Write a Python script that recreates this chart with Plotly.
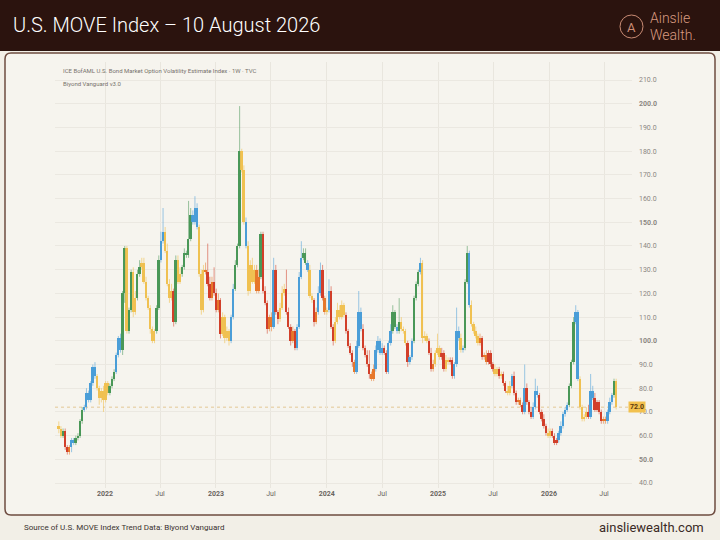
import numpy as np
import pandas as pd
import plotly.graph_objects as go

# weekly candles of the MOVE index, first week 2021-08-02, last week 2026-08-10
first_open = 64.0
closes = [
    63, 60, 62, 55, 53, 55, 58, 57, 59, 60,
    66, 71, 72, 78, 75, 82, 89, 85, 80, 76,
    79, 75, 82, 78, 81, 84, 87, 94, 101, 96,
    120, 139, 104, 113, 129, 112, 118, 128, 131, 133,
    125, 118, 114, 105, 100, 104, 114, 134, 142, 146,
    138, 124, 118, 121, 108, 134, 125, 128, 131, 137,
    136, 143, 153, 150, 156, 148, 128, 113, 130, 129,
    124, 118, 125, 120, 113, 117, 103, 110, 101, 104,
    100, 110, 122, 132, 140, 180, 172, 150, 140, 121,
    132, 125, 130, 121, 127, 145, 121, 116, 105, 110,
    106, 130, 112, 109, 114, 120, 122, 112, 106, 100,
    104, 97, 106, 127, 135, 137, 133, 130, 119, 117,
    108, 112, 120, 130, 118, 112, 113, 121, 106, 100,
    108, 113, 110, 115, 111, 104, 98, 95, 91, 87,
    98, 112, 105, 97, 94, 90, 86, 84, 88, 96,
    100, 95, 97, 95, 87, 99, 104, 112, 106, 104,
    108, 105, 104, 99, 91, 93, 100, 118, 124, 129,
    133, 101, 102, 100, 95, 88, 90, 95, 97, 93,
    95, 88, 92, 91, 92, 85, 90, 104, 101, 96,
    97, 125, 137, 115, 107, 104, 102, 99, 101, 93,
    94, 91, 95, 90, 88, 86, 88, 85, 86, 82,
    79, 78, 81, 85, 78, 74, 75, 73, 70, 80,
    74, 70, 68, 72, 79, 77, 70, 67, 64, 61,
    60, 62, 60, 57, 58, 61, 64, 69, 71, 73,
    81, 91, 108, 112, 84, 72, 67, 68, 70, 68,
    79, 76, 71, 74, 70, 66, 67, 66, 70, 74,
    77, 83, 72,
]
upper_wick = [
    2, 1, 1, 1, 1, 1, 1, 1, 1, 1,
    1, 1, 1, 2, 1, 1, 1, 2, 1, 1,
    1, 2, 1, 1, 1, 1, 1, 1, 1, 2,
    1, 1, 1, 1, 1, 2, 3, 2, 3, 2,
    2, 2, 1, 1, 1, 1, 1, 2, 4, 10,
    2, 3, 2, 3, 1, 2, 2, 3, 1, 2,
    1, 16, 3, 2, 5, 2, 1, 2, 2, 3,
    12, 3, 2, 6, 2, 3, 1, 2, 1, 2,
    1, 1, 2, 2, 1, 19, 1, 2, 2, 2,
    2, 3, 2, 2, 3, 1, 1, 2, 1, 1,
    2, 5, 2, 1, 2, 3, 2, 8, 2, 1,
    2, 1, 1, 2, 7, 2, 2, 1, 2, 1,
    1, 2, 3, 3, 2, 1, 1, 5, 2, 1,
    2, 3, 2, 2, 1, 1, 1, 1, 1, 1,
    2, 9, 2, 2, 1, 2, 6, 1, 2, 2,
    2, 1, 2, 1, 1, 1, 3, 3, 1, 1,
    10, 2, 1, 1, 1, 1, 1, 1, 1, 1,
    2, 1, 2, 1, 1, 2, 2, 1, 6, 1,
    2, 1, 2, 1, 1, 1, 1, 10, 2, 2,
    1, 1, 3, 1, 2, 1, 2, 1, 2, 1,
    1, 2, 1, 1, 1, 2, 1, 1, 1, 1,
    1, 2, 2, 1, 2, 1, 1, 1, 1, 10,
    2, 1, 2, 2, 5, 2, 1, 1, 2, 1,
    2, 1, 1, 1, 1, 1, 2, 1, 1, 1,
    1, 1, 2, 3, 1, 1, 1, 1, 2, 3,
    7, 2, 2, 1, 1, 1, 1, 1, 1, 2,
    1, 1, 1,
]
lower_wick = [
    2, 1, 1, 1, 1, 1, 2, 1, 1, 1,
    1, 1, 1, 1, 1, 1, 1, 1, 1, 3,
    2, 5, 1, 1, 1, 1, 1, 1, 1, 1,
    2, 4, 1, 1, 1, 2, 1, 1, 1, 1,
    1, 1, 1, 2, 1, 1, 1, 1, 1, 1,
    1, 1, 2, 1, 2, 1, 1, 1, 1, 1,
    1, 1, 1, 1, 1, 1, 1, 2, 1, 1,
    1, 1, 1, 1, 1, 1, 2, 1, 2, 1,
    2, 1, 1, 1, 1, 1, 1, 1, 1, 2,
    1, 1, 1, 1, 1, 1, 1, 1, 2, 1,
    2, 1, 1, 2, 1, 1, 1, 1, 1, 2,
    1, 1, 1, 1, 1, 1, 1, 1, 1, 1,
    2, 1, 1, 1, 1, 1, 1, 1, 1, 2,
    1, 1, 1, 1, 1, 1, 1, 1, 2, 1,
    1, 1, 1, 1, 1, 1, 2, 1, 1, 1,
    1, 1, 1, 1, 1, 1, 1, 1, 1, 1,
    1, 1, 1, 1, 2, 1, 1, 1, 1, 1,
    1, 2, 1, 1, 1, 1, 1, 1, 1, 1,
    1, 1, 1, 1, 1, 1, 1, 1, 1, 1,
    1, 1, 1, 1, 1, 1, 1, 1, 1, 1,
    1, 1, 1, 1, 1, 1, 1, 1, 1, 1,
    1, 1, 1, 1, 1, 1, 1, 1, 1, 1,
    1, 1, 1, 1, 1, 1, 1, 1, 1, 1,
    1, 1, 1, 1, 1, 1, 1, 1, 1, 1,
    1, 1, 1, 1, 1, 1, 1, 1, 1, 1,
    1, 1, 1, 1, 1, 1, 1, 1, 1, 1,
    1, 1, 1,
]
# Biyond Vanguard state per week: G green, B blue, Y yellow, O orange, R red
states = (
    "YYGRROBBGG" "GGBBBBBBYY" "YYYYGGGBBB" "GGYGGYYGGY" "YYYYYYGGBB"
    "YYYYRGYYGG" "GGGBBBYYYO" "RRORRORYYY" "YBBGGGYYBY" "YYYOOGRRRO"
    "OBRRYYYRRR" "ORBBBGGBYY" "ROBBROYBRR" "YYYYYRRRRO" "BBBRRRROOB"
    "BBBRRBBGGB" "GYYYRBBGGG" "BYYYRROYYY" "RRYYRRBBBY" "BGGBYYYYOR"
    "OORRRYYRYR" "RYYBRROORB" "RRRBBBRRRR" "YYRRRBBBBB" "GGGBBYYYYR"
    "BBRRRROOBB" "BGY"
)
last_price = 72.0

state_colors = {
    "G": "#4a9858",
    "B": "#4b9ed8",
    "Y": "#f0c152",
    "O": "#e6782c",
    "R": "#d23f2a",
}
wick_colors = {
    "G": "rgba(74,152,88,0.55)",
    "B": "rgba(75,158,216,0.55)",
    "Y": "rgba(240,193,82,0.6)",
    "O": "rgba(230,120,44,0.55)",
    "R": "rgba(210,63,42,0.55)",
}

weeks = pd.date_range("2021-08-02", periods=len(closes), freq="7D")
close = np.array(closes, dtype=float)
open_ = np.concatenate([[first_open], close[:-1]])
body_lo = np.minimum(open_, close)
body_hi = np.maximum(open_, close)
high = body_hi + np.array(upper_wick)
low = body_lo - np.array(lower_wick)
state = list(states)

# figure geometry (pixels) -> paper coords
W, H = 720, 540
ML, MR, MT, MB = 55, 88, 62, 52


def px(x):
    return (x - ML) / (W - ML - MR)


def py(y):
    return (H - MB - y) / (H - MT - MB)


fig = go.Figure()

# wicks, one trace per colour
for code, col in wick_colors.items():
    xs, ys = [], []
    for d, lo, hi, s in zip(weeks, low, high, state):
        if s == code:
            xs += [d, d, None]
            ys += [lo, hi, None]
    fig.add_trace(go.Scatter(x=xs, y=ys, mode="lines", line=dict(color=col, width=1),
                             hoverinfo="skip", showlegend=False))

# bodies
fig.add_trace(go.Bar(
    x=weeks, base=body_lo, y=np.maximum(body_hi - body_lo, 0.7),
    width=6 * 24 * 3600 * 1000,
    marker=dict(color=[state_colors[s] for s in state], line=dict(width=0)),
    showlegend=False,
))

# axes
x_start = pd.Timestamp("2022-01-01") - pd.Timedelta(days=50 / 111 * 365.25)
x_end = x_start + pd.Timedelta(days=577 / 111 * 365.25)
x_ticks = pd.to_datetime(["2022-01-01", "2022-07-01", "2023-01-01", "2023-07-01", "2024-01-01",
                          "2024-07-01", "2025-01-01", "2025-07-01", "2026-01-01", "2026-07-01"])
x_text = [f"<b>{d.year}</b>" if d.month == 1 else "Jul" for d in x_ticks]

y_ticks = list(range(40, 211, 10))
y_text = [f"<b>{v:.1f}</b>" if v % 50 == 0 else f"{v:.1f}" for v in y_ticks]

panel_fill = "#f6f4ee"
fig.update_layout(
    width=W, height=H,
    margin=dict(l=ML, r=MR, t=MT, b=MB),
    paper_bgcolor="#f2efe7",
    plot_bgcolor="rgba(0,0,0,0)",
    font=dict(family="Roboto, Liberation Sans, sans-serif"),
    bargap=0,
    xaxis=dict(type="date", range=[x_start, x_end], tickvals=x_ticks, ticktext=x_text,
               showgrid=True, gridcolor="#e9e6de", gridwidth=1, zeroline=False, showline=False,
               tickfont=dict(size=7, color="#6a6560"), ticks="", fixedrange=True),
    yaxis=dict(side="right", range=[37.9, 217.6], tickvals=y_ticks, ticktext=y_text,
               showgrid=True, gridcolor="#ebe8e1", gridwidth=1, zeroline=False, showline=False,
               tickfont=dict(size=7, color="#8c8782"), ticks="", ticklabelstandoff=6),
)

# header band, panel and logo
header = "#2b130e"
r = 6
x0, x1, y0, y1 = 5, 715, 53, 515
path = (f"M {px(x0 + r)},{py(y0)} L {px(x1 - r)},{py(y0)} Q {px(x1)},{py(y0)} {px(x1)},{py(y0 + r)} "
        f"L {px(x1)},{py(y1 - r)} Q {px(x1)},{py(y1)} {px(x1 - r)},{py(y1)} "
        f"L {px(x0 + r)},{py(y1)} Q {px(x0)},{py(y1)} {px(x0)},{py(y1 - r)} "
        f"L {px(x0)},{py(y0 + r)} Q {px(x0)},{py(y0)} {px(x0 + r)},{py(y0)} Z")
fig.add_shape(type="rect", xref="paper", yref="paper", x0=px(0), x1=px(W), y0=py(51), y1=py(0),
              fillcolor=header, line=dict(width=0), layer="below")
fig.add_shape(type="path", xref="paper", yref="paper", path=path, fillcolor=panel_fill,
              line=dict(color="#6e4c40", width=1.5), layer="below")
fig.add_shape(type="circle", xref="paper", yref="paper", x0=px(620), x1=px(643), y0=py(38), y1=py(15),
              line=dict(color="#c98b74", width=1), layer="above")
fig.add_shape(type="line", xref="paper", yref="y", x0=0, x1=1, y0=last_price, y1=last_price,
              line=dict(color="rgba(215,170,90,0.6)", width=1, dash="dot"), layer="below")

annotations = [
    dict(x=px(11), y=py(25), text="U.S. MOVE Index – 10 August 2026", xanchor="left",
         font=dict(size=20, color="#ffffff", weight=300)),
    dict(x=px(631.5), y=py(27), text="A", xanchor="center", font=dict(size=13, color="#c98b74")),
    dict(x=px(648), y=py(17.5), text="Ainslie", xanchor="left", font=dict(size=14, color="#d99a80", weight=300)),
    dict(x=px(648), y=py(35), text="Wealth.", xanchor="left", font=dict(size=14, color="#d99a80", weight=300)),
    dict(x=px(61), y=py(70), text="ICE BofAML U.S. Bond Market Option Volatility Estimate Index · 1W · TVC",
         xanchor="left", font=dict(size=6, color="#77726c")),
    dict(x=px(61), y=py(83), text="Biyond Vanguard v3.0", xanchor="left", font=dict(size=6, color="#77726c")),
    dict(x=px(22), y=py(527), text="Source of U.S. MOVE Index Trend Data: Biyond Vanguard", xanchor="left",
         font=dict(size=8, color="#3a3330")),
    dict(x=px(706), y=py(527), text="ainsliewealth.com", xanchor="right", font=dict(size=13, color="#3a2a25")),
]
for a in annotations:
    fig.add_annotation(xref="paper", yref="paper", showarrow=False, yanchor="middle", **a)

fig.add_annotation(xref="paper", yref="y", x=px(646), y=last_price, text="<b>72.0</b>", showarrow=False,
                   bgcolor="#f2c14e", borderpad=1, font=dict(size=7, color="#5a3a10"))

# drop the default page margin so the figure sits at the window's top-left corner
fig.write_html("out.html", config={"displayModeBar": False},
               post_script="document.body.style.margin='0';")
